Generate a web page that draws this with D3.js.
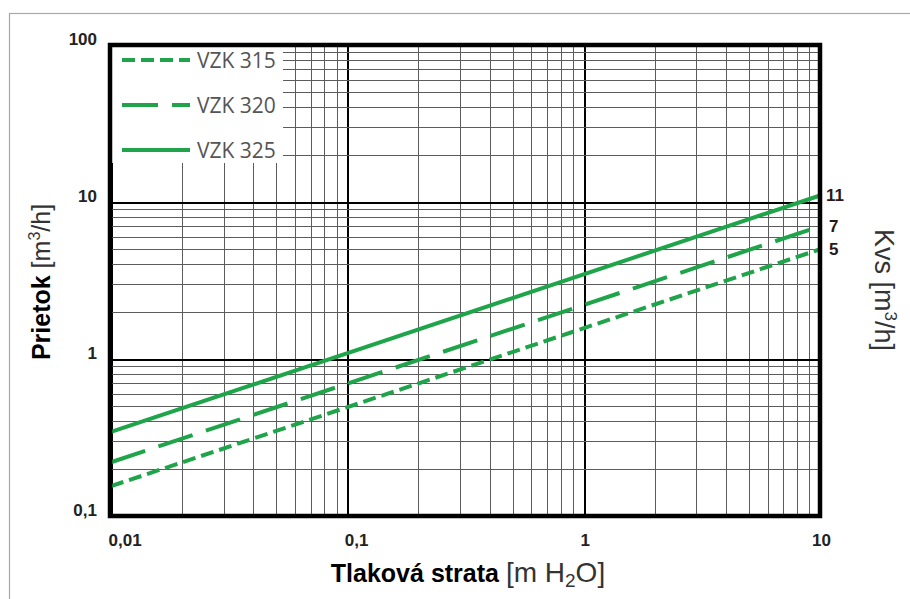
<!DOCTYPE html>
<html>
<head>
<meta charset="utf-8">
<script src="https://cdn.jsdelivr.net/npm/d3@7"></script>
<style>
  body { margin: 0; background: #fff; }
  svg { display: block; }
</style>
</head>
<body>
<div id="chartbox"></div>
<script>
// pressure drop [m H2O] at both ends of the chart
var pressure = [0.01, 10];
// flow [m3/h]
var vzk315 = [0.155, 5];
var vzk320 = [0.22, 7];
var vzk325 = [0.343, 11];
var seriesNames = ["VZK 315", "VZK 320", "VZK 325"];
var kvsLabels = ["5", "7", "11"];

var xTicks = [0.01, 0.1, 1, 10];
var xTickLabels = ["0,01", "0,1", "1", "10"];
var yTicks = [0.1, 1, 10, 100];
var yTickLabels = ["0,1", "1", "10", "100"];

var W = 910, H = 599;
var green = "#1fa44a";
var font = '"Liberation Sans", Arial, sans-serif';

var svg = d3.select('#chartbox').append('svg')
    .attr('width', W)
    .attr('height', H);

// faint outer frame of the scanned picture
svg.append('rect')
    .attr('x', 9.5).attr('y', 13.5)
    .attr('width', W).attr('height', H)
    .attr('fill', 'none')
    .attr('stroke', '#a8a8a8')
    .attr('stroke-width', 1.2);

var x = d3.scaleLog().domain([0.01, 10]).range([111, 820]);
var y = d3.scaleLog().domain([0.1, 100]).range([516, 45]);

// grid: 1..9 in every decade
var xGrid = [], yGrid = [];
[0.01, 0.1, 1].forEach(function (d) {
  for (var k = 1; k <= 9; k++) xGrid.push(d * k);
});
xGrid.push(10);
[0.1, 1, 10].forEach(function (d) {
  for (var k = 1; k <= 9; k++) yGrid.push(d * k);
});
yGrid.push(100);
var isMajor = function (v) { return Math.abs(Math.log10(v) - Math.round(Math.log10(v))) < 1e-6; };
var px = v => Math.round(v) + 0.5;

var grid = svg.append('g').attr('shape-rendering', 'crispEdges');
grid.selectAll('line.v')
    .data(xGrid)
    .enter().append('line')
    .attr('x1', d => px(x(d))).attr('x2', d => px(x(d)))
    .attr('y1', y(100)).attr('y2', y(0.1))
    .attr('stroke', d => isMajor(d) ? '#000' : '#5c5c5c')
    .attr('stroke-width', d => isMajor(d) ? 2 : 1);
grid.selectAll('line.h')
    .data(yGrid)
    .enter().append('line')
    .attr('x1', x(0.01)).attr('x2', x(10))
    .attr('y1', d => px(y(d))).attr('y2', d => px(y(d)))
    .attr('stroke', d => isMajor(d) ? '#000' : '#5c5c5c')
    .attr('stroke-width', d => isMajor(d) ? 2 : 1);

// legend area is blank
svg.append('rect')
    .attr('x', x(0.01)).attr('y', y(100))
    .attr('width', 283 - x(0.01)).attr('height', 163 - y(100))
    .attr('fill', '#fff');

// series
var series = [
  { name: seriesNames[0], values: vzk315, dash: '13,6', kvs: kvsLabels[0] },
  { name: seriesNames[1], values: vzk320, dash: '36,14', kvs: kvsLabels[1] },
  { name: seriesNames[2], values: vzk325, dash: null, kvs: kvsLabels[2] }
];

var line = d3.line()
    .x(d => x(d[0]))
    .y(d => y(d[1]));

svg.selectAll('path.series')
    .data(series)
    .enter().append('path')
    .attr('class', 'series')
    .attr('d', d => line(d3.zip(pressure, d.values)))
    .attr('fill', 'none')
    .attr('stroke', green)
    .attr('stroke-width', 4)
    .attr('stroke-dasharray', d => d.dash);

// frame
svg.append('rect')
    .attr('x', x(0.01) - 1).attr('y', y(100))
    .attr('width', x(10) - x(0.01) + 1).attr('height', y(0.1) - y(100))
    .attr('fill', 'none')
    .attr('stroke', '#000')
    .attr('stroke-width', 4.5);

// legend
var legend = svg.append('g');
var rows = legend.selectAll('g')
    .data(series)
    .enter().append('g')
    .attr('transform', (d, i) => 'translate(0,' + (60 + i * 45) + ')');
rows.append('line')
    .attr('x1', 122).attr('x2', 190)
    .attr('stroke', green)
    .attr('stroke-width', 4)
    .attr('stroke-dasharray', d => d.dash);
rows.append('text')
    .attr('x', 197)
    .attr('y', 8)
    .style('font-family', '"Open Sans", sans-serif')
    .style('font-size', '21px')
    .style('fill', '#555')
    .text(d => d.name);

// axes labels
var xAxis = svg.append('g')
    .attr('transform', 'translate(0,' + y(0.1) + ')')
    .call(d3.axisBottom(x).tickValues(xTicks).tickSize(0)
      .tickFormat((d, i) => xTickLabels[i]));
xAxis.select('.domain').remove();
xAxis.selectAll('text')
    .attr('y', 30)
    .attr('dy', '0')
    .attr('dx', (d, i) => i < 2 ? -3 : 1)
    .style('text-anchor', (d, i) => i < 2 ? 'start' : 'middle')
    .style('font-family', font)
    .style('font-weight', 'bold')
    .style('font-size', '17px')
    .style('fill', '#222');

var yAxis = svg.append('g')
    .attr('transform', 'translate(97,0)')
    .call(d3.axisLeft(y).tickValues(yTicks).tickSize(0)
      .tickFormat((d, i) => yTickLabels[i]));
yAxis.select('.domain').remove();
yAxis.selectAll('text')
    .attr('x', 0)
    .attr('dy', '0')
    .attr('y', -5)
    .style('dominant-baseline', 'middle')
    .style('font-family', font)
    .style('font-weight', 'bold')
    .style('font-size', '17px')
    .style('fill', '#222');

// Kvs labels at the right end
svg.selectAll('text.kvs')
    .data(series)
    .enter().append('text')
    .attr('class', 'kvs')
    .attr('x', d => x(10) + (d.kvs.length > 1 ? 6 : 9))
    .attr('y', d => y(d.values[1]) + 1)
    .style('dominant-baseline', 'middle')
    .style('font-family', font)
    .style('font-weight', 'bold')
    .style('font-size', '17px')
    .style('fill', '#2a1818')
    .text(d => d.kvs);

// axis titles
var xt = svg.append('text')
    .attr('x', 468).attr('y', 582)
    .style('text-anchor', 'middle')
    .style('font-family', font)
    .style('font-size', '25px');
xt.append('tspan').style('font-weight', 'bold').style('fill', '#000').text('Tlaková strata ');
xt.append('tspan').style('font-size', '28px').style('fill', '#333').text(' [m H');
xt.append('tspan').style('font-size', '19px').style('fill', '#333').attr('dy', 5).text('2');
xt.append('tspan').style('font-size', '28px').style('fill', '#333').attr('dy', -5).text('O]');

var yt = svg.append('text')
    .attr('transform', 'translate(50,282) rotate(-90)')
    .style('text-anchor', 'middle')
    .style('font-family', font)
    .style('font-size', '25px');
yt.append('tspan').style('font-weight', 'bold').style('fill', '#000').text('Prietok ');
yt.append('tspan').style('fill', '#333').text('[m');
yt.append('tspan').style('font-size', '16px').style('fill', '#333').attr('dy', -10).text('3');
yt.append('tspan').style('fill', '#333').attr('dy', 10).text('/h]');

var kt = svg.append('text')
    .attr('transform', 'translate(875,290) rotate(90)')
    .style('text-anchor', 'middle')
    .style('font-family', font)
    .style('font-size', '27px')
    .style('fill', '#333');
kt.append('tspan').text('Kvs [m');
kt.append('tspan').style('font-size', '17px').attr('dy', -10).text('3');
kt.append('tspan').attr('dy', 10).text('/h]');
</script>
</body>
</html>
